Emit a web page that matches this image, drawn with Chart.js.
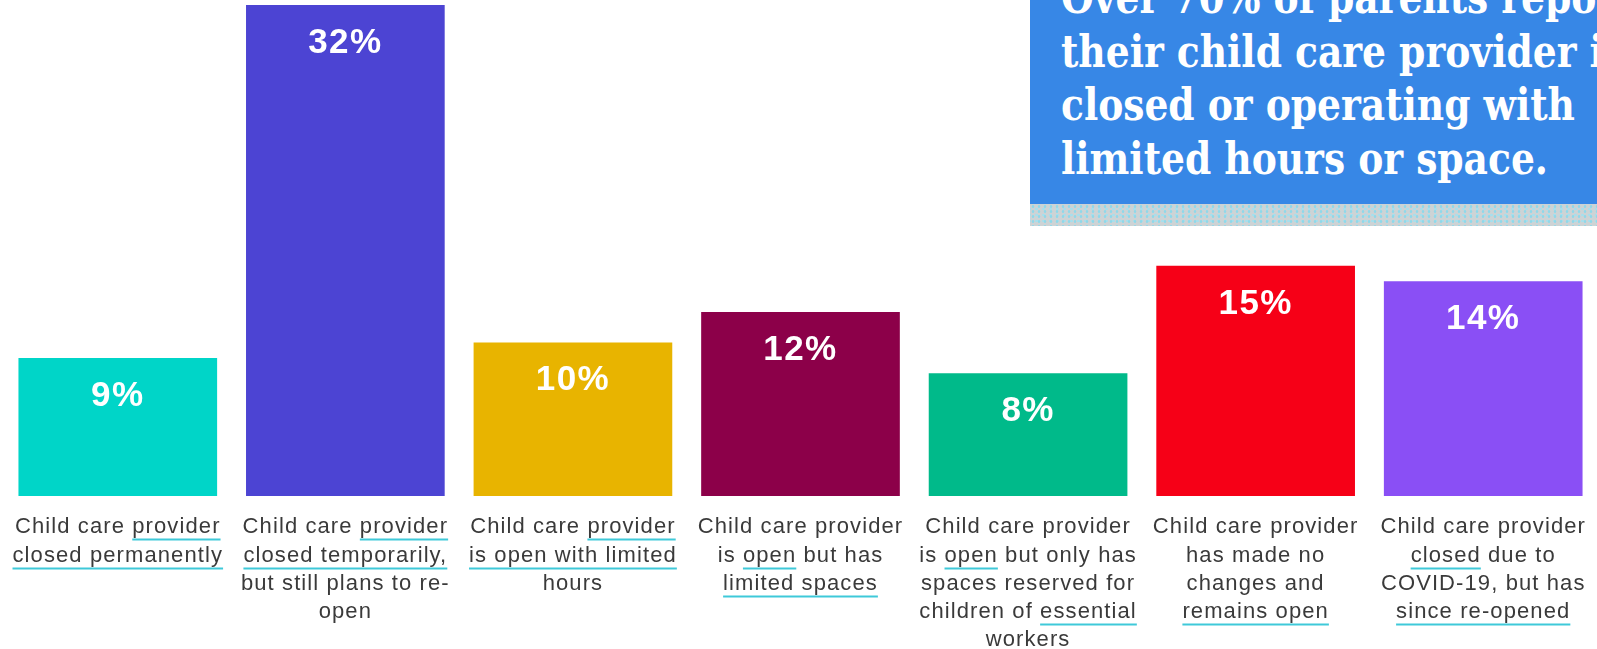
<!DOCTYPE html>
<html>
<head>
<meta charset="utf-8">
<script src="https://cdn.jsdelivr.net/npm/chart.js@4.4.1/dist/chart.umd.min.js"></script>
<style>
  html, body { margin:0; padding:0; background:#ffffff; overflow:hidden; }
  #wrap { position:relative; width:1597px; height:649px; overflow:hidden; }
  #c { position:absolute; left:0; top:0; }
  #note { position:absolute; left:1030px; top:0; width:620px; height:204px; background:#3787e6; overflow:hidden; }
  #note .txt { position:absolute; left:31px; top:-29px; color:#ffffff; font-family:"DejaVu Serif Condensed","DejaVu Serif",serif; font-weight:bold; font-size:44px; line-height:53.5px; white-space:nowrap; transform:scaleX(0.95); transform-origin:0 0; }
  #strip { position:absolute; left:1030px; top:204px; width:620px; height:22px; background-color:#cdd3d5;
    background-image:radial-gradient(circle, #8ed9ea 1px, transparent 1.6px), radial-gradient(circle, #a5e0ee 1px, transparent 1.6px);
    background-size:6px 5px, 7px 6px; background-position:0 0, 3px 2px; }
</style>
</head>
<body>
<div id="wrap">
  <canvas id="c" width="1597" height="649"></canvas>
  <div id="note"><div class="txt">Over 70% of parents report<br>their child care provider is<br>closed or operating with<br>limited hours or space.</div></div>
  <div id="strip"></div>
</div>
<script>
const categories = [
  ["Child care provider", "closed permanently"],
  ["Child care provider", "closed temporarily,", "but still plans to re-", "open"],
  ["Child care provider", "is open with limited", "hours"],
  ["Child care provider", "is open but has", "limited spaces"],
  ["Child care provider", "is open but only has", "spaces reserved for", "children of essential", "workers"],
  ["Child care provider", "has made no", "changes and", "remains open"],
  ["Child care provider", "closed due to", "COVID-19, but has", "since re-opened"]
];
const values = [9, 32, 10, 12, 8, 15, 14];
const barColors = ["#00d5c8", "#4c44d3", "#e8b400", "#8c0049", "#00ba8a", "#f60017", "#8a4ff5"];
// underlined phrases: [category index, line index, phrase]
const underlines = [
  [0, 0, "provider"], [0, 1, "closed permanently"],
  [1, 0, "provider"], [1, 1, "closed temporarily,"],
  [2, 0, "provider"], [2, 1, "is open with limited"],
  [3, 1, "open"], [3, 2, "limited spaces"],
  [4, 1, "open"], [4, 3, "essential"],
  [5, 3, "remains open"],
  [6, 1, "closed"], [6, 3, "since re-opened"]
];

const FONT = '"Liberation Sans", Arial, Helvetica, sans-serif';
const TICK_SIZE = 22, TICK_LH = 28.3, TICK_PAD = 17, SPACING = '1.1px';
const AXIS_H = 153;

const spacingPlugin = {
  id: 'spacing',
  beforeLayout(chart) { chart.ctx.letterSpacing = SPACING; },
  beforeDraw(chart) { chart.ctx.letterSpacing = SPACING; }
};

const valueLabels = {
  id: 'valueLabels',
  afterDatasetsDraw(chart) {
    const ctx = chart.ctx;
    const meta = chart.getDatasetMeta(0);
    ctx.save();
    ctx.letterSpacing = '1.4px';
    ctx.fillStyle = '#ffffff';
    ctx.font = 'bold 35px ' + FONT;
    ctx.textAlign = 'center';
    ctx.textBaseline = 'middle';
    meta.data.forEach((bar, i) => {
      ctx.fillText(values[i] + '%', bar.x, bar.y + 38);
    });
    ctx.restore();
  }
};

const underlinePlugin = {
  id: 'underlines',
  afterDraw(chart) {
    const ctx = chart.ctx;
    const xs = chart.scales.x;
    ctx.save();
    ctx.letterSpacing = SPACING;
    ctx.font = TICK_SIZE + 'px ' + FONT;
    ctx.strokeStyle = '#3fc9d9';
    ctx.lineWidth = 2;
    underlines.forEach(([ci, li, phrase]) => {
      const line = categories[ci][li];
      const idx = line.indexOf(phrase);
      if (idx < 0) return;
      const cx = xs.getPixelForTick(ci);
      const full = ctx.measureText(line).width;
      const pre = ctx.measureText(line.slice(0, idx)).width;
      const w = ctx.measureText(phrase).width;
      const x0 = cx - full / 2 + pre;
      const yc = xs.top + TICK_PAD + TICK_LH / 2 + li * TICK_LH;
      const y = Math.round(yc + TICK_SIZE * 0.55) + 0.5;
      ctx.beginPath();
      ctx.moveTo(x0, y);
      ctx.lineTo(x0 + w, y);
      ctx.stroke();
    });
    ctx.restore();
  }
};

new Chart(document.getElementById('c'), {
  type: 'bar',
  data: {
    labels: categories,
    datasets: [{
      data: values,
      backgroundColor: barColors,
      borderWidth: 0,
      barPercentage: 0.873,
      categoryPercentage: 1.0
    }]
  },
  options: {
    responsive: false,
    animation: false,
    devicePixelRatio: 1,
    layout: { padding: { left: 4, right: 0, top: 5, bottom: 0 } },
    plugins: { legend: { display: false }, tooltip: { enabled: false } },
    scales: {
      x: {
        grid: { display: false, drawTicks: false },
        border: { display: false },
        afterFit(scale) { scale.height = AXIS_H; scale.paddingLeft = 0; scale.paddingRight = 0; },
        ticks: {
          color: '#3a3a3a',
          padding: TICK_PAD,
          maxRotation: 0,
          autoSkip: false,
          font: { family: FONT, size: TICK_SIZE, lineHeight: TICK_LH / TICK_SIZE }
        }
      },
      y: {
        display: false,
        min: 0,
        max: 32
      }
    }
  },
  plugins: [spacingPlugin, valueLabels, underlinePlugin]
});
</script>
</body>
</html>
